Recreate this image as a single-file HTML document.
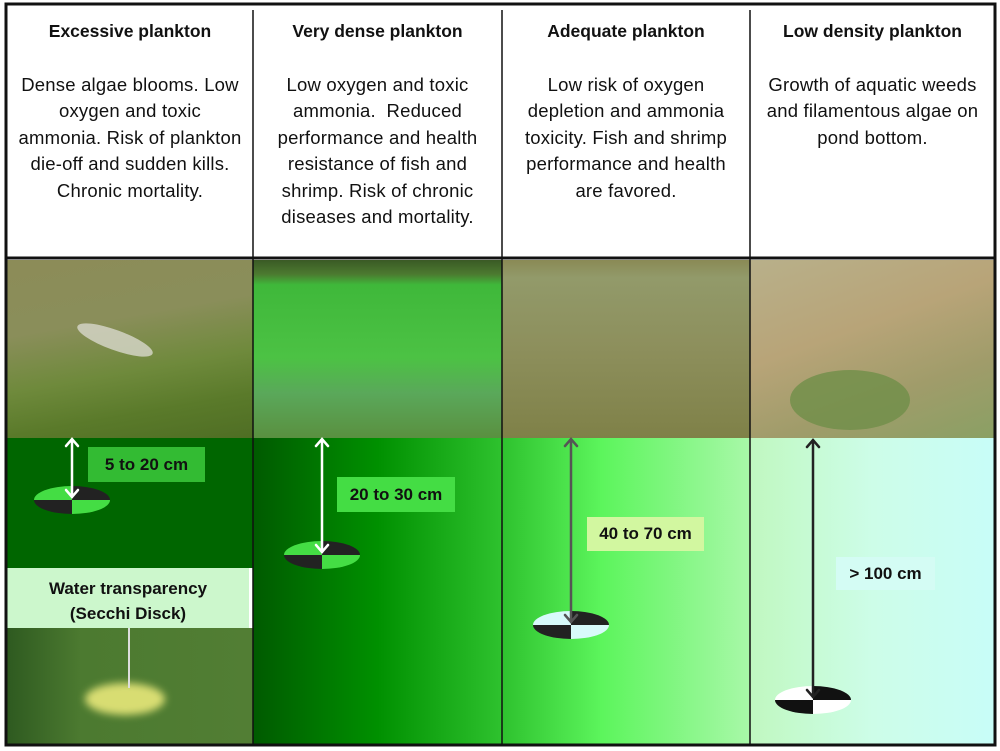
<!DOCTYPE html>
<html><head><meta charset="utf-8"><style>
*{margin:0;padding:0;box-sizing:border-box}
body{width:1000px;height:751px;background:#fff;position:relative;overflow:hidden;font-family:"Liberation Sans",sans-serif}
.a{position:absolute}
.hd{position:absolute;top:3px;height:256px;text-align:center;color:#111;font-size:18.5px;line-height:26.5px;letter-spacing:0.2px;white-space:nowrap}
.hd b{display:block;font-size:17.5px;margin-top:15px;margin-bottom:27px;letter-spacing:0}
.lab{position:absolute;font-weight:bold;font-size:17px;color:#111;text-align:center}
</style></head><body>
<!-- headers -->
<div class="hd" style="left:7px;width:246px"><b>Excessive plankton</b>Dense algae blooms. Low<br>oxygen and toxic<br>ammonia. Risk of plankton<br>die-off and sudden kills.<br>Chronic mortality.</div>
<div class="hd" style="left:253px;width:249px"><b>Very dense plankton</b>Low oxygen and toxic<br>ammonia.&nbsp; Reduced<br>performance and health<br>resistance of fish and<br>shrimp. Risk of chronic<br>diseases and mortality.</div>
<div class="hd" style="left:502px;width:248px"><b>Adequate plankton</b>Low risk of oxygen<br>depletion and ammonia<br>toxicity. Fish and shrimp<br>performance and health<br>are favored.</div>
<div class="hd" style="left:750px;width:245px"><b>Low density plankton</b>Growth of aquatic weeds<br>and filamentous algae on<br>pond bottom.</div>
<!-- photos -->
<div class="a" style="left:7px;top:260px;width:246px;height:178px;background:linear-gradient(170deg,#8c8c58 0%,#8a8e5a 35%,#6f8a3c 60%,#5a7a2a 80%,#4f6e24 100%)"></div>
<div class="a" style="left:75px;top:330px;width:80px;height:20px;background:#d8d8cc;border-radius:50%;transform:rotate(20deg);opacity:.8"></div>
<div class="a" style="left:253px;top:260px;width:249px;height:178px;background:linear-gradient(180deg,#3a5a25 0%,#4c7a30 8%,#3fb83a 14%,#4cc244 55%,#5aa85a 75%,#5a9040 100%)"></div>
<div class="a" style="left:502px;top:260px;width:248px;height:178px;background:linear-gradient(180deg,#8a8a55 0%,#929a6a 10%,#8d8f5c 50%,#7f8148 100%)"></div>
<div class="a" style="left:750px;top:260px;width:245px;height:178px;background:linear-gradient(160deg,#b8b08a 0%,#b8a478 40%,#a09c6a 70%,#8aa064 100%)"></div>
<div class="a" style="left:790px;top:370px;width:120px;height:60px;background:#6f8e48;border-radius:50%;opacity:.8"></div>
<!-- bottom -->
<div class="a" style="left:7px;top:438px;width:246px;height:130px;background:#006600"></div>
<div class="a" style="left:7px;top:628px;width:246px;height:117px;background:linear-gradient(90deg,#2e5a20,#4c7a30 30%,#527e34)"></div>
<div class="a" style="left:85px;top:683px;width:80px;height:32px;background:#e8e87a;border-radius:50%;filter:blur(4px);opacity:.9"></div>
<div class="a" style="left:128px;top:628px;width:2px;height:60px;background:#ddd"></div>
<div class="a" style="left:7px;top:568px;width:242px;height:60px;background:#ccf7cc"></div>
<div class="lab" style="left:7px;top:576px;width:242px;line-height:25px">Water transparency<br>(Secchi Disck)</div>
<div class="a" style="left:253px;top:438px;width:249px;height:307px;background:linear-gradient(90deg,#005a00,#009000 50%,#2ec22e)"></div>
<div class="a" style="left:502px;top:438px;width:248px;height:307px;background:linear-gradient(90deg,#2ec22e,#5cf55c 40%,#a8f8a8)"></div>
<div class="a" style="left:750px;top:438px;width:245px;height:307px;background:linear-gradient(90deg,#c0f8c0,#cdfde8 50%,#c8fdf8)"></div>
<!-- labels -->
<div class="lab" style="left:88px;top:447px;width:117px;height:35px;line-height:35px;background:#33bb33">5 to 20 cm</div>
<div class="lab" style="left:337px;top:477px;width:118px;height:35px;line-height:35px;background:#44dd44">20 to 30 cm</div>
<div class="lab" style="left:587px;top:517px;width:117px;height:34px;line-height:34px;background:#d2f7a0">40 to 70 cm</div>
<div class="lab" style="left:836px;top:557px;width:99px;height:33px;line-height:33px;background:#d4fcf4">&gt; 100 cm</div>
<!-- disks and arrows -->
<svg class="a" style="left:0;top:0" width="1000" height="751">
<g>
<g transform="translate(72,500)"><path d="M-38 0A38 14 0 0 1 0 -14V0Z" fill="#44dd44"/><path d="M0-14A38 14 0 0 1 38 0H0Z" fill="#222"/><path d="M38 0A38 14 0 0 1 0 14V0Z" fill="#44dd44"/><path d="M0 14A38 14 0 0 1 -38 0H0Z" fill="#222"/></g>
<g transform="translate(322,555)"><path d="M-38 0A38 14 0 0 1 0 -14V0Z" fill="#44dd44"/><path d="M0-14A38 14 0 0 1 38 0H0Z" fill="#222"/><path d="M38 0A38 14 0 0 1 0 14V0Z" fill="#44dd44"/><path d="M0 14A38 14 0 0 1 -38 0H0Z" fill="#222"/></g>
<g transform="translate(571,625)"><path d="M-38 0A38 14 0 0 1 0 -14V0Z" fill="#d8fafa"/><path d="M0-14A38 14 0 0 1 38 0H0Z" fill="#222"/><path d="M38 0A38 14 0 0 1 0 14V0Z" fill="#d8fafa"/><path d="M0 14A38 14 0 0 1 -38 0H0Z" fill="#222"/></g>
<g transform="translate(813,700)"><path d="M-38 0A38 14 0 0 1 0 -14V0Z" fill="#fff"/><path d="M0-14A38 14 0 0 1 38 0H0Z" fill="#111"/><path d="M38 0A38 14 0 0 1 0 14V0Z" fill="#fff"/><path d="M0 14A38 14 0 0 1 -38 0H0Z" fill="#111"/></g>
</g>
<g stroke-width="2.5" fill="none" stroke-linecap="round">
<g stroke="#fff"><path d="M72 439V497M66 446L72 439L78 446M66 490L72 497L78 490"/></g>
<g stroke="#fff"><path d="M322 439V552M316 446L322 439L328 446M316 545L322 552L328 545"/></g>
<g stroke="#555"><path d="M571 439V622M565 446L571 439L577 446M565 615L571 622L577 615"/></g>
<g stroke="#222"><path d="M813 440V697M807 447L813 440L819 447M807 690L813 697L819 690"/></g>
</g>
<g stroke="#111">
<rect x="6" y="4" width="989" height="741" fill="none" stroke-width="3"/>
<line x1="6" y1="258" x2="995" y2="258" stroke-width="3"/>
<line x1="253" y1="10" x2="253" y2="745" stroke-width="1.5"/>
<line x1="502" y1="10" x2="502" y2="745" stroke-width="1.5"/>
<line x1="750" y1="10" x2="750" y2="745" stroke-width="1.5"/>
</g>
</svg>
</body></html>
